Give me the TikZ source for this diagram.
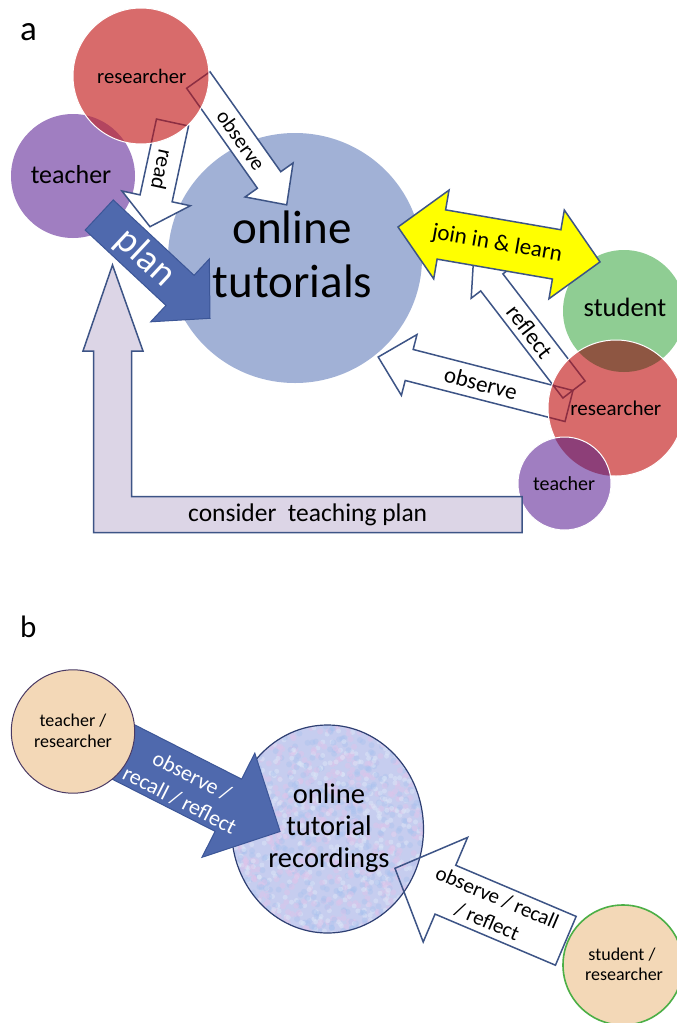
\documentclass[tikz,border=0pt]{standalone}
\usepackage{fontspec}
\setmainfont{Carlito}
\definecolor{resred}{HTML}{D86B6B}
\definecolor{teapur}{HTML}{A07EC1}
\definecolor{stugreen}{HTML}{8FCD93}
\definecolor{tutblue}{HTML}{A1B1D6}
\definecolor{olTR}{HTML}{B3455F}
\definecolor{olSR}{HTML}{8E5642}
\definecolor{olRT}{HTML}{8D3F78}
\definecolor{aline}{HTML}{3D5486}
\definecolor{darkred}{HTML}{8C2E42}
\definecolor{planblue}{HTML}{4F69AD}
\definecolor{planedge}{HTML}{3C5697}
\definecolor{lavender}{HTML}{DCD5E6}
\definecolor{jyellow}{HTML}{FFFF00}
\definecolor{peach}{HTML}{F3D8B7}
\definecolor{peachedge}{HTML}{4A3A64}
\definecolor{grnedge}{HTML}{4CAF46}
\definecolor{recfill}{HTML}{C6CDEF}
\definecolor{recedge}{HTML}{2E3F72}
\definecolor{texpink}{HTML}{E0C4EA}
\definecolor{texblue}{HTML}{A8C2EE}
\definecolor{texlight}{HTML}{DCE6F7}
\newcommand{\fsz}[2]{\fontsize{#1}{#2}\selectfont}
% single block arrow along +x: style, length, shaft half width, head half width, head length
\newcommand{\blockarrow}[5]{\draw[#1] (0,-#3) -- ({#2-#5},-#3) -- ({#2-#5},-#4) -- (#2,0) -- ({#2-#5},#4) -- ({#2-#5},#3) -- (0,#3) -- cycle;}
% double block arrow along +x
\newcommand{\dblarrow}[5]{\draw[#1] (0,0) -- (#5,#4) -- (#5,#3) -- ({#2-#5},#3) -- ({#2-#5},#4) -- (#2,0) -- ({#2-#5},-#4) -- ({#2-#5},-#3) -- (#5,-#3) -- (#5,-#4) -- cycle;}
\newcommand{\ArrRead}[1]{\begin{scope}[shift={(readTail)},rotate=-102.2]\blockarrow{#1}{106.6}{16.4}{35}{29}\end{scope}}
\newcommand{\ArrObsTop}[1]{\begin{scope}[shift={(obsTopTail)},rotate=-54.7]\blockarrow{#1}{153}{14.3}{29.4}{30.5}\end{scope}}
\newcommand{\ArrPlan}[1]{\begin{scope}[shift={(planTail)},rotate=-43]\blockarrow{#1}{151.5}{20.6}{43}{41}\end{scope}}
\newcommand{\ArrReflect}[1]{\begin{scope}[shift={(reflTail)},rotate=127.5]\blockarrow{#1}{165}{14}{26}{30}\end{scope}}
\newcommand{\ArrObsLow}[1]{\begin{scope}[shift={(obsLowTail)},rotate=165.6]\blockarrow{#1}{197}{16}{31.4}{32}\end{scope}}
\newcommand{\ArrJoin}[1]{\begin{scope}[shift={(joinEnd)},rotate=-9.8]\dblarrow{#1}{205}{25}{45}{44}\end{scope}}
\newcommand{\ArrBone}[1]{\begin{scope}[shift={(bOneTail)},rotate=-26.9]\blockarrow{#1}{186.7}{29.3}{58.4}{58}\end{scope}}
\newcommand{\ArrBtwo}[1]{\begin{scope}[shift={(bTwoTail)},rotate=157]\blockarrow{#1}{185.6}{26.5}{56.8}{54.8}\end{scope}}
\tikzset{
  aw/.style={draw=aline, fill=white, line width=1.5pt},
  awopen/.style={draw=aline, fill=none, line width=1.5pt},
  arin/.style={draw=darkred, fill=none, line width=1.5pt},
  planstyle/.style={draw=planedge, fill=planblue, line width=1pt},
  yellowarrow/.style={draw=aline, fill=jyellow, line width=1.5pt},
  bentstyle/.style={draw=aline, fill=lavender, line width=1.5pt},
  rimwhite/.style={draw=white, line width=1pt},
  lbl/.style={inner sep=0pt, text=black},
  albl/.style={inner sep=0pt, transform shape, align=center},
}
\begin{document}
\begin{tikzpicture}[x=1pt,y=-1pt,line join=miter]
\useasboundingbox (0,0) rectangle (677,1023);
\clip (0,0) rectangle (677,1023);
\fill[white] (0,0) rectangle (677,1023);
% ---------- coordinates ----------
\coordinate (tutC) at (295,258);
\coordinate (teaTc) at (73,176);
\coordinate (resTc) at (141,76);
\coordinate (stuC) at (624,311);
\coordinate (resRc) at (616,408);
\coordinate (teaRc) at (564.5,483.5);
\coordinate (readTail) at (172.5,122.5);
\coordinate (obsTopTail) at (198.3,80);
\coordinate (planTail) at (99.2,215);
\coordinate (reflTail) at (574,389.5);
\coordinate (obsLowTail) at (569,406);
\coordinate (joinEnd) at (398,227);
\coordinate (trC) at (73,731.5);
\coordinate (recC) at (327.5,829);
\coordinate (srC) at (623,965);
\coordinate (bOneTail) at (113.6,747);
\coordinate (bTwoTail) at (565.8,940.8);
% ---------- panel a ----------
\node[lbl, font=\fsz{35}{35}, anchor=base west] (labA) at (20,40) {a};
\fill[tutblue] (tutC) ellipse[x radius=127pt, y radius=125pt];
\fill[teapur] (teaTc) circle[radius=62pt];
\ArrRead{aw}
\ArrObsTop{aw}
\fill[resred] (resTc) circle[radius=68pt];
\begin{scope}\clip (teaTc) circle[radius=62pt]; \fill[olTR] (resTc) circle[radius=68pt];\end{scope}
\begin{scope}\clip (resTc) circle[radius=68pt]; \ArrRead{arin} \ArrObsTop{arin}\end{scope}
\draw[rimwhite] (resTc) circle[radius=68pt];
% right cluster
\fill[stugreen] (stuC) circle[radius=61pt];
\ArrReflect{aw}
\ArrObsLow{aw}
\ArrJoin{yellowarrow}
\fill[resred] (resRc) circle[radius=68pt];
\begin{scope}\clip (stuC) circle[radius=61pt]; \fill[olSR] (resRc) circle[radius=68pt];\end{scope}
\begin{scope}\clip (resRc) circle[radius=68pt]; \ArrReflect{arin} \ArrObsLow{arin}\end{scope}
\draw[rimwhite] (resRc) circle[radius=68pt];
\fill[teapur] (teaRc) circle[radius=46.5pt];
\begin{scope}\clip (resRc) circle[radius=68pt]; \fill[olRT] (teaRc) circle[radius=46.5pt];\end{scope}
\draw[rimwhite] (teaRc) circle[radius=46.5pt];
% consider teaching plan (bent arrow)
\draw[bentstyle] (112.5,265) -- (143,351) -- (131.5,351) -- (131.5,496.5) -- (522,496.5) -- (522,532.5) -- (93.5,532.5) -- (93.5,351) -- (83,351) -- cycle;
\node[lbl, font=\fsz{25.5}{25.5}, anchor=base west] (lblConsider) at (188,521) {consider\ \ teaching plan};
% plan arrow
\ArrPlan{planstyle}
% arrow labels
\begin{scope}[shift={(readTail)},rotate=-102.2]
  \node[albl, font=\fsz{22}{22}] (lblRead) at (48,0) {read};
\end{scope}
\begin{scope}[shift={(obsTopTail)},rotate=-54.7]
  \node[albl, font=\fsz{21}{21}] (lblObsTop) at (74,0) {observe};
\end{scope}
\begin{scope}[shift={(planTail)},rotate=-43]
  \node[albl, font=\fsz{38}{38}, text=white] (lblPlan) at (63,0) {plan};
\end{scope}
\begin{scope}[shift={(joinEnd)},rotate=-9.8]
  \node[albl, font=\fsz{23}{23}] (lblJoin) at (100.6,0) {join in \& learn};
\end{scope}
\begin{scope}[shift={(reflTail)},rotate=127.5]
  \node[albl, font=\fsz{23}{23}, rotate=180] (lblReflect) at (73,0) {reflect};
\end{scope}
\begin{scope}[shift={(obsLowTail)},rotate=165.6]
  \node[albl, font=\fsz{23}{23}, rotate=180] (lblObsLow) at (91,0) {observe};
\end{scope}
% circle labels
\node[lbl, font=\fsz{20.6}{20.6}, anchor=base] (tResT) at (141.7,83) {researcher};
\node[lbl, font=\fsz{26}{26}, anchor=base] (tTeaT) at (71,183.3) {teacher};
\node[lbl, font=\fsz{26.5}{26.5}, anchor=base] (tStu) at (625,316.7) {student};
\node[lbl, font=\fsz{21}{21}, anchor=base] (tResR) at (615.8,415) {researcher};
\node[lbl, font=\fsz{20}{20}, anchor=base] (tTeaR) at (564,490) {teacher};
\node[lbl, font=\fsz{47}{47}, anchor=base] (tOnline) at (292,243) {online};
\node[lbl, font=\fsz{47}{47}, anchor=base] (tTutorials) at (292.5,297) {tutorials};
% ---------- panel b ----------
\node[lbl, font=\fsz{31}{31}, anchor=base west] (labB) at (20,637) {b};
\fill[recfill] (recC) ellipse[x radius=96pt, y radius=104pt];
\begin{scope}
  \clip (recC) ellipse[x radius=96pt, y radius=104pt];
  \pgfmathsetseed{42}
  \foreach \i in {1,...,500}{
    \pgfmathsetmacro{\px}{231+rnd*193}
    \pgfmathsetmacro{\py}{725+rnd*208}
    \fill[texpink, fill opacity=0.45] (\px,\py) circle[radius=3pt];
    \pgfmathsetmacro{\qx}{231+rnd*193}
    \pgfmathsetmacro{\qy}{725+rnd*208}
    \fill[texblue, fill opacity=0.4] (\qx,\qy) circle[radius=3pt];
    \pgfmathsetmacro{\sx}{231+rnd*193}
    \pgfmathsetmacro{\sy}{725+rnd*208}
    \fill[texlight, fill opacity=0.5] (\sx,\sy) circle[radius=2.5pt];
  }
\end{scope}
\draw[recedge, line width=1.2pt] (recC) ellipse[x radius=96pt, y radius=104pt];
\ArrBone{planstyle}
\draw[fill=peach, draw=peachedge, line width=1pt] (trC) circle[radius=61.7pt];
\ArrBtwo{awopen}
\draw[fill=peach, draw=grnedge, line width=1.6pt] (srC) circle[radius=60pt];
\begin{scope}[shift={(bOneTail)},rotate=-26.9]
  \node[albl, font=\fsz{22}{27}, text=white] (lblBone) at (83,4) {observe /\\recall / reflect};
\end{scope}
\begin{scope}[shift={(bTwoTail)},rotate=157]
  \node[albl, font=\fsz{21}{26}, rotate=180] (lblBtwo) at (80,0) {observe / recall\\/ reflect};
\end{scope}
\node[lbl, font=\fsz{18}{18}, anchor=base] (tTR1) at (73,726) {teacher /};
\node[lbl, font=\fsz{18}{18}, anchor=base] (tTR2) at (73,747) {researcher};
\node[lbl, font=\fsz{18}{18}, anchor=base] (tSR1) at (622,960) {student /};
\node[lbl, font=\fsz{18}{18}, anchor=base] (tSR2) at (624,980) {researcher};
\node[lbl, font=\fsz{28.5}{28.5}, anchor=base] (tRec1) at (329,803) {online};
\node[lbl, font=\fsz{28.5}{28.5}, anchor=base] (tRec2) at (329,835) {tutorial};
\node[lbl, font=\fsz{28.5}{28.5}, anchor=base] (tRec3) at (329,867) {recordings};
\end{tikzpicture}
\end{document}
